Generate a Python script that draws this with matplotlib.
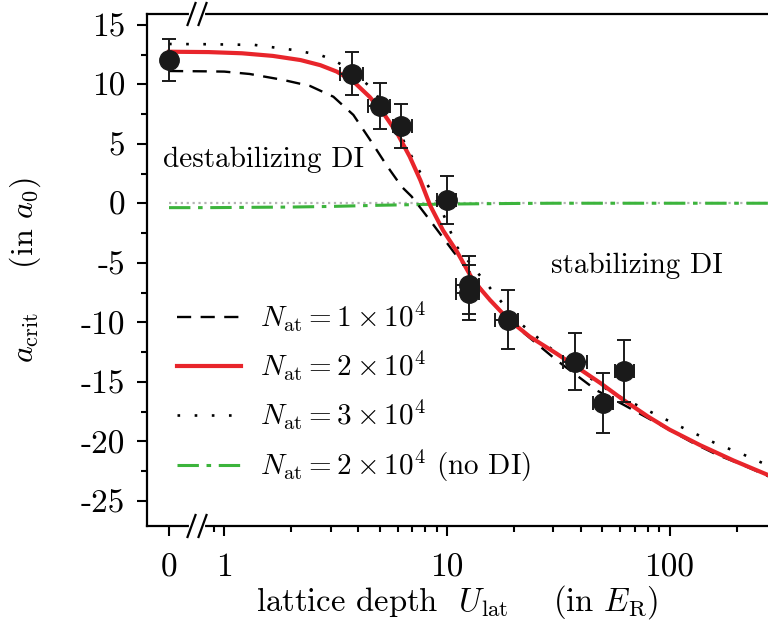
import numpy as np
import matplotlib
matplotlib.use("Agg")
import matplotlib.pyplot as plt
from matplotlib.lines import Line2D
from matplotlib.transforms import IdentityTransform

plt.rcParams["font.family"] = "cmr10"
plt.rcParams["mathtext.fontset"] = "cm"
plt.rcParams["axes.unicode_minus"] = False
plt.rcParams["axes.formatter.use_mathtext"] = True

# ---------- data ----------
# measured critical scattering lengths
pt_x = [0, 3.75, 5.0, 6.2, 10.0, 12.6, 12.6, 18.9, 37.6, 50.4, 62.5]
pt_y = [12.05, 10.9, 8.2, 6.5, 0.3, -6.85, -7.5, -9.75, -13.3, -16.75, -14.05]
pt_yerr = [1.75, 1.8, 1.95, 1.85, 2.0, 2.45, 2.3, 2.45, 2.4, 2.5, 2.6]
pt_xlo = [0, 3.3, 4.4, 5.73, 9.0, 11.0, 11.0, 16.4, 33.2, 45.4, 57.0]
pt_xhi = [0, 4.2, 5.55, 7.0, 11.0, 14.0, 14.0, 20.9, 42.4, 55.7, 69.0]

# theory, N = 1e4
n1_x = [0, 0.85, 1.0, 1.3, 1.84, 2.43, 3.09, 3.8, 4.52, 5.36, 6.27, 6.93, 7.7,
        8.7, 10.7, 12.7, 15.1, 20.5, 31, 47, 62, 95, 127, 163, 215, 280]
n1_y = [11.13, 11.1, 11.08, 10.88, 10.38, 9.87, 8.97, 7.44, 5.34, 3.2, 1.4, 0.6,
        -0.5, -1.8, -4.05, -5.8, -7.9, -10.35, -13.15, -15.7, -16.9, -18.8,
        -20.1, -21.1, -22.0, -22.95]

# theory, N = 2e4
n2_x = [0, 0.85, 1.2, 1.65, 2.2, 2.7, 3.2, 3.8, 4.5, 5.2, 6.0, 6.8, 7.6, 8.4,
        9.6, 11.1, 13.1, 15.6, 18.9, 23.6, 31, 38, 49, 62, 80, 100, 137, 194, 280]
n2_y = [12.75, 12.72, 12.62, 12.4, 12.05, 11.62, 11.08, 10.25, 8.95, 7.55, 5.85,
        3.95, 1.95, -0.15, -2.25, -4.05, -6.45, -8.1, -9.75, -11.2, -12.6, -13.7,
        -15.1, -16.5, -17.9, -19.0, -20.3, -21.6, -22.85]

# theory, N = 3e4
n3_x = [0, 0.85, 1.37, 2.04, 2.69, 3.09, 3.8, 4.67, 5.36, 6.36, 7.33, 8.4, 9.3,
        11.07, 14.6, 20.5, 36.8, 55.7, 80, 105, 163, 215, 280]
n3_y = [13.4, 13.38, 13.32, 12.9, 12.48, 12.06, 11.08, 9.54, 7.86, 5.34, 3.09,
        1.2, -0.2, -3.63, -6.43, -9.8, -13.7, -15.95, -17.4, -18.5, -20.2, -21.1,
        -22.05]

# theory without dipolar interaction
nodi_x = [0, 0.85, 1, 2, 3, 5, 7, 10, 15, 20, 30, 50, 100, 280]
nodi_y = [-0.35, -0.35, -0.34, -0.3, -0.25, -0.15, -0.1, -0.05, -0.02, 0, 0.02,
          0.02, 0.02, 0.02]

yticks = [15, 10, 5, 0, -5, -10, -15, -20, -25]
xticks = [0, 1, 10, 100]
xticklabels = ["0", "1", "10", "100"]

# ---------- broken axis: linear around 0, log above ----------
X_BREAK = 0.754
U0 = -0.2484
K = (np.log10(X_BREAK) - U0) / X_BREAK


def fwd(x):
    x = np.asarray(x, dtype=float)
    with np.errstate(divide="ignore", invalid="ignore"):
        lg = np.log10(np.where(x > 0, x, 1.0))
    return np.where(x >= X_BREAK, lg, U0 + K * x)


def inv(u):
    u = np.asarray(u, dtype=float)
    with np.errstate(over="ignore"):
        return np.where(u >= np.log10(X_BREAK), 10.0 ** u, (u - U0) / K)


fig = plt.figure(figsize=(7.68, 6.25), dpi=100)
ax = fig.add_axes([147 / 768, 99 / 625, 621 / 768, 512 / 625])
ax.set_xscale("function", functions=(fwd, inv))
ax.set_xlim(-0.593, 277)
ax.set_ylim(-27.1, 15.92)

ax.plot([0, 280], [0, 0], ":", color="#b4b4b4", lw=1.6, zorder=1)
ax.plot(nodi_x, nodi_y, color="#3cb43c", lw=2.2, dashes=(7, 2.5, 1.5, 2.5),
        zorder=2, label=r"$N_{\rm at} = 2 \times 10^4$ (no DI)")
ax.plot(n1_x, n1_y, color="black", lw=1.7, dashes=(6, 4), zorder=3,
        label=r"$N_{\rm at} = 1 \times 10^4$")
ax.plot(n3_x, n3_y, color="black", lw=1.9, dashes=(1, 5.5), zorder=3,
        label=r"$N_{\rm at} = 3 \times 10^4$")
ax.plot(n2_x, n2_y, color="#e8252b", lw=3.0, zorder=4,
        label=r"$N_{\rm at} = 2 \times 10^4$")

xerr = [np.subtract(pt_x, pt_xlo), np.subtract(pt_xhi, pt_x)]
ax.errorbar(pt_x, pt_y, yerr=pt_yerr, xerr=xerr, fmt="o", color="#1a1a1a",
            ms=14, elinewidth=1.4, capsize=5, capthick=1.4, zorder=5)

handles, labels = ax.get_legend_handles_labels()
order = [1, 3, 2, 0]
ax.legend([handles[i] for i in order], [labels[i] for i in order],
          loc="upper left", bbox_to_anchor=(0.048, 0.442), frameon=False,
          fontsize=21, handlelength=2.2, handletextpad=0.65, labelspacing=0.52,
          borderpad=0, borderaxespad=0)

ax.text(0.026, 0.715, "destabilizing DI", transform=ax.transAxes, fontsize=21,
        va="center", ha="left")
ax.text(0.65, 0.508, "stabilizing DI", transform=ax.transAxes, fontsize=21,
        va="center", ha="left")

# ticks and spines
ax.set_yticks(yticks, labels=[str(v) for v in yticks])
ax.set_yticks(np.arange(-25, 15, 5) + 2.5, minor=True)
ax.set_xticks(xticks, labels=xticklabels)
minors = [0.9] + list(range(2, 10)) + list(range(20, 100, 10)) + [200]
ax.set_xticks(minors, minor=True)
ax.tick_params(which="both", direction="out", width=1.5, top=False, right=False,
               labelsize=24, pad=8)
ax.tick_params(axis="x", which="major", pad=12)
ax.tick_params(which="major", length=7.5)
ax.tick_params(which="minor", length=4, labelbottom=False)
ax.spines["right"].set_visible(False)
for s in ["left", "top", "bottom"]:
    ax.spines[s].set_linewidth(1.6)

ax.set_xlabel(r"lattice depth  $U_{\rm lat}$    (in $E_{\rm R}$)", fontsize=23.5,
              labelpad=1)
ax.set_ylabel(r"$a_{\rm crit}$    (in $a_0$)", fontsize=23)
ax.yaxis.set_label_coords(-0.168, 0.5)

# "//" break marks on top and bottom spines
fig.canvas.draw()
xb = ax.transData.transform((X_BREAK, 0))[0]
y_top = ax.transAxes.transform((0, 1))[1]
y_bot = ax.transAxes.transform((0, 0))[1]
for yc in (y_top, y_bot):
    fig.add_artist(Line2D([xb - 6, xb + 6], [yc, yc], color="white", lw=3,
                          transform=IdentityTransform(), zorder=10))
    for dx in (-5.5, 5.5):
        fig.add_artist(Line2D([xb + dx - 4, xb + dx + 4], [yc - 11, yc + 11],
                              color="black", lw=1.6, clip_on=False,
                              transform=IdentityTransform(), zorder=11))

fig.savefig("out.png", dpi=100)
